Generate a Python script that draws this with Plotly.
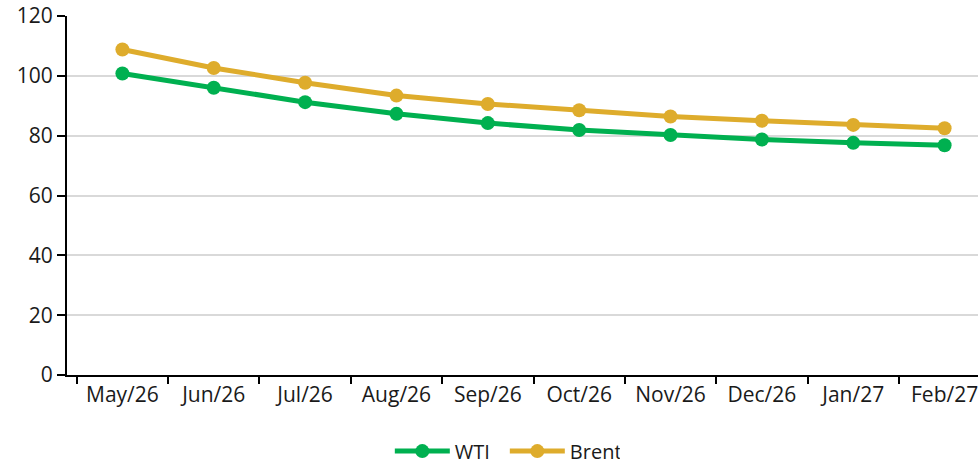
import plotly.graph_objects as go

months = ["May/26", "Jun/26", "Jul/26", "Aug/26", "Sep/26", "Oct/26", "Nov/26", "Dec/26", "Jan/27", "Feb/27"]
wti = [100.8, 96.0, 91.2, 87.3, 84.2, 81.9, 80.2, 78.7, 77.6, 76.8]
brent = [108.8, 102.6, 97.7, 93.4, 90.6, 88.5, 86.4, 85.0, 83.6, 82.5]

GREEN = "#00B050"
GOLD = "#DEAC2C"
FONT = "Open Sans"

fig = go.Figure()
fig.add_trace(go.Scatter(x=months, y=wti, name="WTI", mode="lines+markers",
                         line=dict(color=GREEN, width=5),
                         marker=dict(color=GREEN, size=14)))
fig.add_trace(go.Scatter(x=months, y=brent, name="Brent", mode="lines+markers",
                         line=dict(color=GOLD, width=5),
                         marker=dict(color=GOLD, size=14)))

fig.update_layout(
    width=1000, height=471,
    margin=dict(l=67, r=0, t=16, b=93),
    paper_bgcolor="white", plot_bgcolor="white",
    font=dict(family=FONT, size=21, color="#1a1a1a"),
    showlegend=True,
    legend=dict(orientation="h", x=0.346, xanchor="left", y=-0.212, yanchor="middle",
                font=dict(size=20), itemwidth=55, entrywidth=45, entrywidthmode="pixels",
                traceorder="normal"),
    xaxis=dict(showline=True, linecolor="black", linewidth=2, automargin=False,
               ticks="outside", tickson="boundaries", ticklen=7, tickwidth=2, tickcolor="black",
               showgrid=False, tickfont=dict(size=21)),
    yaxis=dict(range=[0, 120], dtick=20, showline=True, linecolor="black", linewidth=2,
               automargin=False,
               ticks="outside", ticklen=8, tickwidth=2, tickcolor="black",
               showgrid=True, gridcolor="#d9d9d9", gridwidth=2, zeroline=False,
               tickfont=dict(size=21)),
)

fig.write_html("out.html", config={"displayModeBar": False},
               post_script="document.body.style.margin='0';")
